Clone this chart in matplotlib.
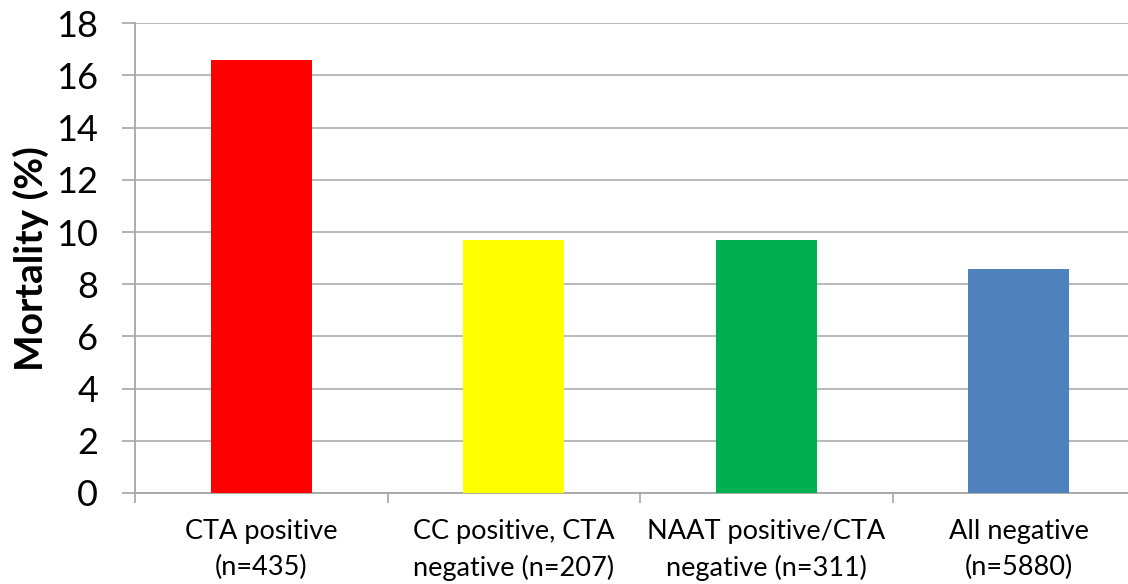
import matplotlib
matplotlib.use("Agg")
import matplotlib.pyplot as plt
from matplotlib.ticker import FixedLocator

categories = ["CTA positive\n(n=435)", "CC positive, CTA\nnegative (n=207)",
              "NAAT positive/CTA\nnegative (n=311)", "All negative\n(n=5880)"]
mortality = [16.6, 9.7, 9.7, 8.6]
bar_colors = ["#FF0000", "#FFFF00", "#00B050", "#4F81BD"]
y_ticks = [0, 2, 4, 6, 8, 10, 12, 14, 16, 18]

plt.rcParams["font.family"] = ["Lato", "DejaVu Sans"]

fig = plt.figure(figsize=(11.28, 5.84), dpi=100)
ax = fig.add_axes([135 / 1128, 91 / 584, 1010 / 1128, 469.8 / 584])

x = range(len(categories))
ax.bar(x, mortality, width=0.4, color=bar_colors, zorder=3)

ax.set_xlim(-0.5, len(categories) - 0.5)
ax.set_ylim(0, 18)
ax.set_yticks(y_ticks)
ax.set_xticks(list(x))
ax.set_xticklabels(categories, fontsize=19.5, linespacing=1.5)
ax.xaxis.set_minor_locator(FixedLocator([i - 0.5 for i in range(len(categories) + 1)]))
ax.tick_params(axis="x", which="major", length=0, pad=19)
ax.tick_params(axis="x", which="minor", length=7.2, width=1.2, color="#A6A6A6", direction="out")
ax.tick_params(axis="y", length=9.4, width=1.2, color="#A6A6A6", labelsize=26, pad=17)

ax.grid(axis="y", color="#B3B3B3", linewidth=1.3, zorder=0)
for side in ("top", "right"):
    ax.spines[side].set_visible(False)
for side in ("left", "bottom"):
    ax.spines[side].set_color("#A6A6A6")
    ax.spines[side].set_linewidth(1.3)

ax.set_ylabel("Mortality (%)", fontsize=28, fontweight="bold", labelpad=5)

fig.savefig("out.png", dpi=100)
